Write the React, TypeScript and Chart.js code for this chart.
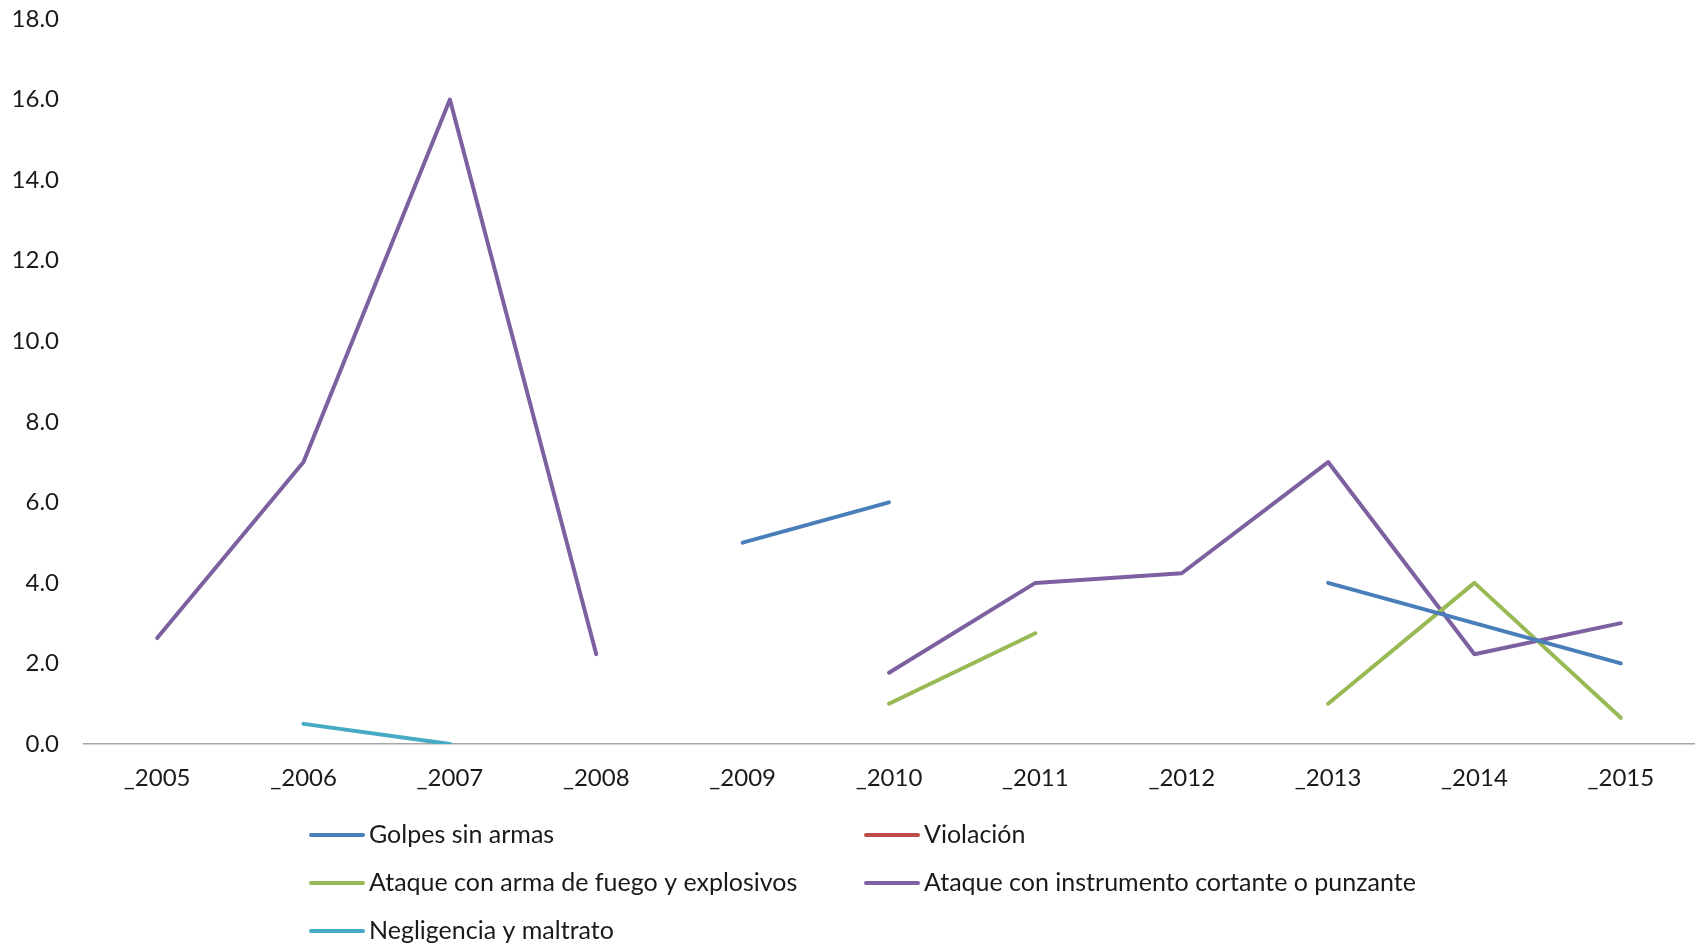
import React, { useEffect, useRef } from "react";
import { Chart, registerables } from "chart.js";

Chart.register(...registerables);

const categories = ["_2005", "_2006", "_2007", "_2008", "_2009", "_2010", "_2011", "_2012", "_2013", "_2014", "_2015"];
const golpesSinArmas = [null, null, null, null, 5.0, 6.0, null, null, 4.0, 3.0, 2.0];
const violacion = [null, null, null, null, null, null, null, null, null, null, null];
const armaFuego = [null, null, null, null, null, 1.0, 2.75, null, 1.0, 4.0, 0.65];
const instrumentoCortante = [2.63, 7.0, 16.0, 2.23, null, 1.77, 4.0, 4.24, 7.0, 2.23, 3.0];
const negligencia = [null, 0.5, 0.0, null, null, null, null, null, null, null, null];

const seriesNames = [
  "Golpes sin armas",
  "Violación",
  "Ataque con arma de fuego y explosivos",
  "Ataque con instrumento cortante o punzante",
  "Negligencia y maltrato",
];
const seriesColors = ["#4A7EBB", "#BE4B48", "#98B954", "#7D60A0", "#46AAC5"];
const yTicks = { min: 0, max: 18, step: 2 };

const FONT = "Lato, 'Open Sans', sans-serif";

const legendPlugin = {
  id: "customLegend",
  afterDraw(chart: any) {
    const ctx = chart.ctx;
    const cols = [311, 866];
    const rows = [835, 883, 931];
    ctx.save();
    chart.data.datasets.forEach((ds: any, i: number) => {
      const x = cols[i % 2];
      const y = rows[Math.floor(i / 2)];
      ctx.strokeStyle = ds.borderColor;
      ctx.lineWidth = 4;
      ctx.lineCap = "round";
      ctx.beginPath();
      ctx.moveTo(x, y);
      ctx.lineTo(x + 52, y);
      ctx.stroke();
      ctx.fillStyle = "#1a1a1a";
      ctx.font = `25px ${FONT}`;
      ctx.textBaseline = "middle";
      ctx.textAlign = "left";
      ctx.fillText(ds.label, x + 58, y);
    });
    ctx.restore();
  },
};

export default function App() {
  const ref = useRef<HTMLCanvasElement | null>(null);

  useEffect(() => {
    if (!ref.current) return;
    const allData = [golpesSinArmas, violacion, armaFuego, instrumentoCortante, negligencia];
    const chart = new Chart(ref.current, {
      type: "line",
      data: {
        labels: categories,
        datasets: allData.map((d, i) => ({
          label: seriesNames[i],
          data: d,
          borderColor: seriesColors[i],
          backgroundColor: seriesColors[i],
          borderWidth: 4,
          pointRadius: 0,
          tension: 0,
          spanGaps: false,
          borderCapStyle: "round",
          borderJoinStyle: "round",
          fill: false,
        })),
      },
      options: {
        responsive: false,
        animation: false,
        layout: { padding: { top: 19, right: 4, left: 0, bottom: 0 } },
        plugins: {
          legend: { display: false },
          tooltip: { enabled: false },
        },
        scales: {
          x: {
            offset: true,
            grid: { display: false, drawTicks: false },
            border: { display: true, color: "#a6a6a6", width: 1.5 },
            ticks: {
              color: "#1a1a1a",
              font: { family: FONT, size: 24 },
              padding: 20,
              maxRotation: 0,
              autoSkip: false,
            },
            afterFit: (s: any) => {
              s.height = 202;
              s.paddingLeft = 0;
              s.paddingRight = 0;
            },
          },
          y: {
            min: yTicks.min,
            max: yTicks.max,
            grid: { display: false, drawTicks: false },
            border: { display: false },
            ticks: {
              stepSize: yTicks.step,
              color: "#1a1a1a",
              font: { family: FONT, size: 24 },
              padding: 25,
              callback: (v: any) => Number(v).toFixed(1),
            },
            afterFit: (s: any) => {
              s.width = 84;
              s.paddingTop = 0;
              s.paddingBottom = 0;
            },
          },
        },
      },
      plugins: [legendPlugin],
    });
    return () => chart.destroy();
  }, []);

  return (
    <div style={{ position: "fixed", left: 0, top: 0, width: 1698, height: 946, background: "#fff" }}>
      <canvas ref={ref} width={1698} height={946} style={{ display: "block" }} />
    </div>
  );
}
